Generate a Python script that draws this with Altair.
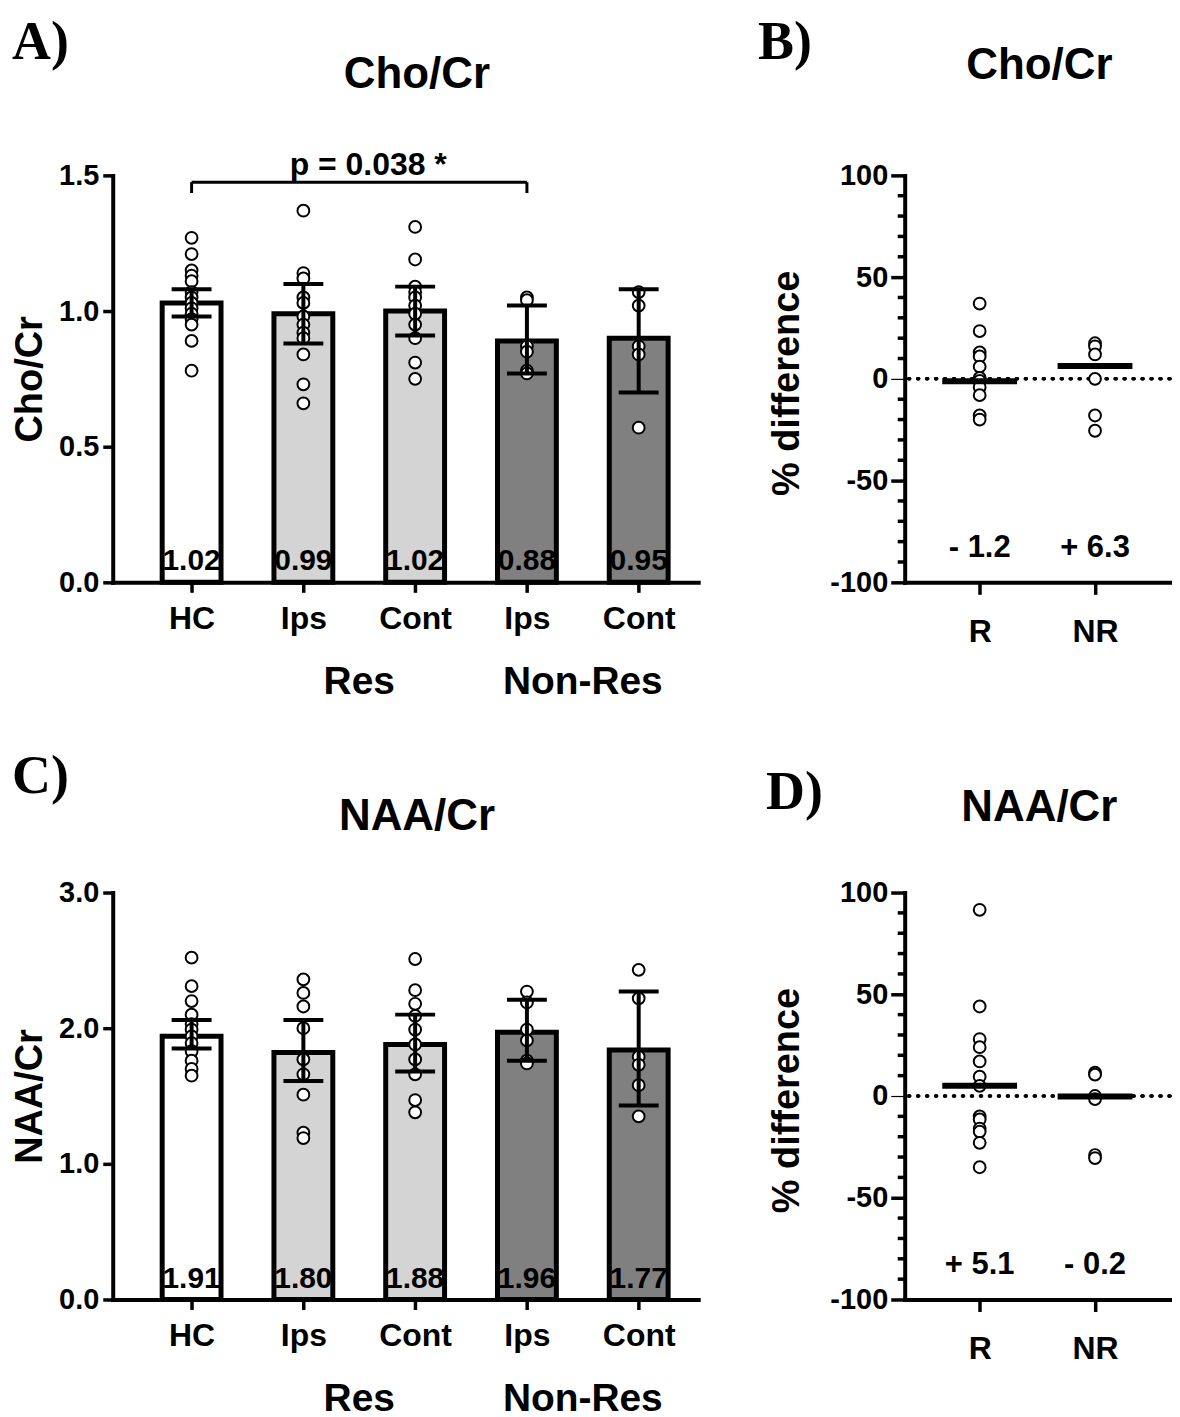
import altair as alt
import pandas as pd

FONT = "Liberation Sans"
SERIF = "Liberation Serif"

# ---------------- data ----------------
groups = ["HC", "Ips", "Cont", "Ips", "Cont"]
group_pos = [0, 1, 2, 3, 4]
fills = ["#ffffff", "#d4d4d4", "#d4d4d4", "#808080", "#808080"]
super_groups = ["Res", "Non-Res"]
super_pos = [1.5, 3.5]

# Panel A: Cho/Cr
cho_bar = [1.03, 0.99, 1.00, 0.89, 0.90]
cho_lo = [0.98, 0.88, 0.91, 0.77, 0.70]
cho_hi = [1.08, 1.10, 1.09, 1.02, 1.08]
cho_label = ["1.02", "0.99", "1.02", "0.88", "0.95"]
cho_hc = [1.27, 1.21, 1.15, 1.13, 1.11, 1.07, 1.05, 1.03, 1.01, 0.99, 0.97, 0.95, 0.89, 0.78]
cho_res_ips = [1.37, 1.14, 1.12, 1.05, 1.03, 0.98, 0.95, 0.92, 0.90, 0.84, 0.73, 0.66]
cho_res_cont = [1.31, 1.19, 1.09, 1.07, 1.05, 1.02, 0.99, 0.95, 0.90, 0.81, 0.75]
cho_nr_ips = [1.05, 1.04, 0.87, 0.85, 0.78, 0.77]
cho_nr_cont = [1.07, 1.02, 0.87, 0.84, 0.57]
p_text = "p = 0.038 *"

# Panel C: NAA/Cr
naa_bar = [1.94, 1.82, 1.88, 1.97, 1.84]
naa_lo = [1.85, 1.61, 1.68, 1.76, 1.43]
naa_hi = [2.06, 2.06, 2.10, 2.21, 2.27]
naa_label = ["1.91", "1.80", "1.88", "1.96", "1.77"]
naa_hc = [2.52, 2.31, 2.20, 2.10, 2.03, 1.99, 1.94, 1.89, 1.83, 1.76, 1.70, 1.65]
naa_res_ips = [2.36, 2.26, 2.16, 2.00, 1.77, 1.66, 1.51, 1.23, 1.19]
naa_res_cont = [2.51, 2.28, 2.18, 2.09, 1.99, 1.88, 1.77, 1.66, 1.47, 1.38]
naa_nr_ips = [2.27, 2.19, 1.99, 1.91, 1.76, 1.74]
naa_nr_cont = [2.43, 2.22, 1.79, 1.73, 1.58, 1.35]

# Panels B / D: % difference
resp = ["R", "NR"]
cho_diff_R = [37, 23.5, 13, 11, 6, 0.5, -1, -4, -8, -18, -20]
cho_diff_NR = [17.5, 16, 12, 0, -18, -25.5]
cho_med = [-1.2, 6.3]
cho_med_label = ["- 1.2", "+ 6.3"]

naa_diff_R = [91.5, 44, 28, 24, 17, 9.5, 5, -10, -11.5, -16, -17.5, -23, -35]
naa_diff_NR = [11.5, 10.5, 0, -1.5, -29, -30.5]
naa_med = [5.1, -0.2]
naa_med_label = ["+ 5.1", "- 0.2"]

minor_ticks = [-90, -80, -70, -60, -40, -30, -20, -10, 10, 20, 30, 40, 60, 70, 80, 90]
major_ticks = [-100, -50, 0, 50, 100]

WA, HA = 587, 408
WB = 266


def bar_panel(title, letter, ylab, bars, lo, hi, labels, pts, ymax, yvals,
              title_y, letter_y, bracket=None):
    xscale = alt.Scale(domain=[-0.661, 4.488], nice=False, zero=False)
    yscale = alt.Scale(domain=[0, ymax], nice=False, zero=True)
    label_expr = "[" + ",".join("'%s'" % g for g in groups) + "][datum.value]"
    x_axis = alt.Axis(values=group_pos, labelExpr=label_expr, title=None, tickSize=10,
                      labelPadding=11, labelFontSize=32, labelFlush=False,
                      labelOverlap=False, grid=False)
    y_axis = alt.Axis(values=yvals, format=".1f", title=ylab, tickSize=10, labelPadding=4,
                      titleX=-82, titleY=HA / 2, titleBaseline="middle",
                      labelOverlap=False, grid=False)

    def X(f):
        return alt.X(f, type="quantitative", scale=xscale, axis=x_axis)

    def Y(f):
        return alt.Y(f, type="quantitative", scale=yscale, axis=y_axis)

    summary = pd.DataFrame({"pos": group_pos, "bar": bars, "lo": lo, "hi": hi,
                            "label": labels, "fill": fills})
    pts_df = pd.DataFrame([{"pos": i, "v": v} for i, vals in enumerate(pts) for v in vals])
    base = alt.Chart(summary)

    layers = [
        base.mark_bar(size=59, stroke="black", strokeWidth=5, orient="vertical", opacity=1).encode(
            x=X("pos"), y=Y("bar"), fill=alt.Fill("fill:N", scale=None)),
        base.mark_text(font=FONT, fontWeight="bold", fontSize=30, color="black",
                       baseline="middle", dy=-21).encode(
            x=X("pos"), y=alt.YDatum(0, type="quantitative", scale=yscale, axis=y_axis),
            text="label:N"),
        alt.Chart(pts_df).mark_circle(size=140, color="white", stroke="black",
                                      strokeWidth=2, opacity=1).encode(x=X("pos"), y=Y("v")),
        base.mark_rule(strokeWidth=4, color="black", opacity=1).encode(
            x=X("pos"), y=Y("lo"), y2="hi"),
        base.mark_tick(orient="horizontal", size=40, thickness=4, color="black", opacity=1).encode(
            x=X("pos"), y=Y("lo")),
        base.mark_tick(orient="horizontal", size=40, thickness=4, color="black", opacity=1).encode(
            x=X("pos"), y=Y("hi")),
        alt.Chart(pd.DataFrame({"pos": super_pos, "t": super_groups})).mark_text(
            font=FONT, fontWeight="bold", fontSize=39, color="black", baseline="middle").encode(
            x=X("pos"), y=alt.value(HA + 100), text="t:N"),
        alt.Chart(pd.DataFrame({"t": [title]})).mark_text(
            font=FONT, fontWeight="bold", fontSize=44, color="black", baseline="middle").encode(
            x=alt.value(305), y=alt.value(title_y), text="t:N"),
        alt.Chart(pd.DataFrame({"t": [letter]})).mark_text(
            font=SERIF, fontWeight="bold", fontSize=54, color="black", align="left",
            baseline="top").encode(x=alt.value(-101), y=alt.value(letter_y), text="t:N"),
    ]
    if bracket is not None:
        b0, b1, by, bdrop, ptxt_pos, ptxt_y, ptxt = bracket
        bdf = pd.DataFrame({"a": [b0], "b": [b1], "y": [by]})
        ddf = pd.DataFrame({"pos": [b0, b1], "y": [by, by], "y2": [bdrop, bdrop]})
        layers += [
            alt.Chart(bdf).mark_rule(strokeWidth=3, color="black").encode(
                x=X("a"), x2="b", y=Y("y")),
            alt.Chart(ddf).mark_rule(strokeWidth=3, color="black").encode(
                x=X("pos"), y=Y("y"), y2="y2"),
            alt.Chart(pd.DataFrame({"pos": [ptxt_pos], "y": [ptxt_y], "t": [ptxt]})).mark_text(
                font=FONT, fontWeight="bold", fontSize=32, color="black",
                baseline="middle").encode(x=X("pos"), y=Y("y"), text="t:N"),
        ]
    return alt.layer(*layers).properties(width=WA, height=HA)


def diff_panel(title, letter, r_vals, nr_vals, med, med_label, title_y, letter_x, letter_y):
    xscale = alt.Scale(type="point", domain=resp, padding=0.65)
    yscale = alt.Scale(domain=[-100, 100], nice=False)
    x_axis = alt.Axis(title=None, labelAngle=0, tickSize=12, labelPadding=22,
                      labelFontSize=32, grid=False)
    y_axis = alt.Axis(values=major_ticks, labelExpr="replace(datum.label, '\u2212', '-')",
                      title="% difference", tickSize=14,
                      labelPadding=3, titleX=-117, titleY=208, titleBaseline="middle",
                      tickWidth=alt.condition("datum.value === 0", alt.value(1.2), alt.value(3.5)),
                      labelOverlap=False, grid=False)

    def X(f):
        return alt.X(f, type="nominal", scale=xscale, axis=x_axis)

    def Y(f):
        return alt.Y(f, type="quantitative", scale=yscale, axis=y_axis)

    pts = pd.DataFrame({"g": ["R"] * len(r_vals) + ["NR"] * len(nr_vals),
                        "v": list(r_vals) + list(nr_vals)})
    meds = pd.DataFrame({"g": resp, "m": med, "label": med_label})
    layers = [
        alt.Chart(pd.DataFrame({"m": minor_ticks})).mark_rule(strokeWidth=3.5, color="black").encode(
            y=Y("m"), x=alt.value(-7), x2=alt.value(0)),
        alt.Chart(meds).mark_rule(strokeDash=[1, 8], strokeWidth=3.5, strokeCap="round",
                                  color="black").encode(
            y=alt.YDatum(0, type="quantitative", scale=yscale, axis=y_axis)),
        alt.Chart(pts).mark_circle(size=140, color="white", stroke="black", strokeWidth=2,
                                   opacity=1).encode(x=X("g"), y=Y("v")),
        alt.Chart(meds).mark_tick(orient="horizontal", size=75, thickness=6, color="black",
                                  opacity=1).encode(x=X("g"), y=Y("m")),
        alt.Chart(meds).mark_text(font=FONT, fontWeight="bold", fontSize=31, color="black",
                                  baseline="middle").encode(
            x=X("g"), y=alt.YDatum(-83, type="quantitative", scale=yscale, axis=y_axis),
            text="label:N"),
        alt.Chart(pd.DataFrame({"t": [title]})).mark_text(
            font=FONT, fontWeight="bold", fontSize=44, color="black", baseline="middle").encode(
            x=alt.value(135), y=alt.value(title_y), text="t:N"),
        alt.Chart(pd.DataFrame({"t": [letter]})).mark_text(
            font=SERIF, fontWeight="bold", fontSize=54, color="black", align="left",
            baseline="top").encode(x=alt.value(letter_x), y=alt.value(letter_y), text="t:N"),
    ]
    return alt.layer(*layers).properties(width=WB, height=HA)


panel_a = bar_panel("Cho/Cr", "A)", "Cho/Cr", cho_bar, cho_lo, cho_hi, cho_label,
                    [cho_hc, cho_res_ips, cho_res_cont, cho_nr_ips, cho_nr_cont],
                    1.5, [0, 0.5, 1.0, 1.5], -101, -160,
                    bracket=(0, 3, 1.475, 1.435, 1.58, 1.54, p_text))
panel_b = diff_panel("Cho/Cr", "B)", cho_diff_R, cho_diff_NR, cho_med, cho_med_label,
                     -110, -147, -160)
panel_c = bar_panel("NAA/Cr", "C)", "NAA/Cr", naa_bar, naa_lo, naa_hi, naa_label,
                    [naa_hc, naa_res_ips, naa_res_cont, naa_nr_ips, naa_nr_cont],
                    3.0, [0, 1.0, 2.0, 3.0], -76, -143)
panel_d = diff_panel("NAA/Cr", "D)", naa_diff_R, naa_diff_NR, naa_med, naa_med_label,
                     -85, -139, -127)

chart = alt.concat(panel_a, panel_b, panel_c, panel_d, columns=2,
                   spacing={"row": 311, "column": 207}, bounds="flush", align="each").properties(
    padding={"left": 4, "top": 6, "right": 0, "bottom": 0}
).configure_view(strokeWidth=0).configure_axis(
    domainWidth=4, domainColor="black", domainCap="square", tickColor="black", tickWidth=3.5,
    labelColor="black", titleColor="black", labelFont=FONT, titleFont=FONT,
    labelFontWeight="bold", titleFontWeight="bold", labelFontSize=29, titleFontSize=38,
    grid=False
)

chart.save("out.html", embed_options={"renderer": "svg", "actions": False})
